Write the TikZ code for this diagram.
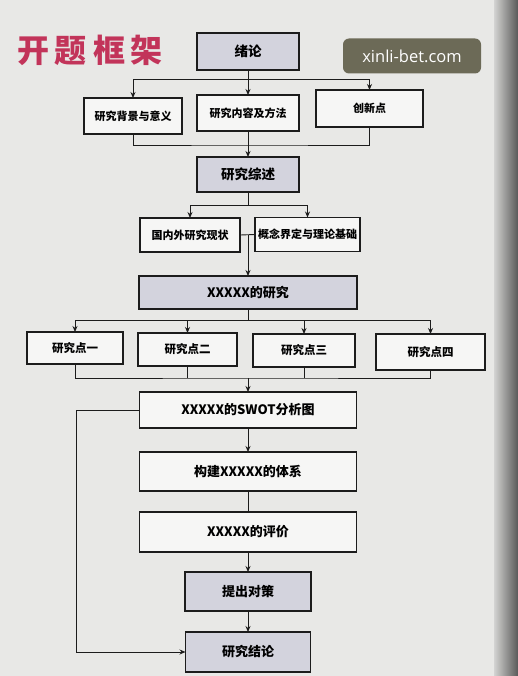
\documentclass[tikz,border=0pt]{standalone}
\usepackage{fontspec}
\setmainfont{Noto Sans CJK SC}
\newfontfamily\wmfont{Open Sans}
\usetikzlibrary{arrows.meta}
\definecolor{paper}{HTML}{E8E8E6}
\definecolor{boxfill}{HTML}{D3D3DD}
\definecolor{ink}{HTML}{1C1C1C}
\definecolor{titlered}{HTML}{C2345A}
\definecolor{wmgray}{HTML}{6C6A57}
\begin{document}
\begin{tikzpicture}[x=1pt,y=-1pt,
  box/.style={draw=ink,line width=1.5pt,inner sep=0pt,outer sep=0pt,fill=white!60!paper,font=\bfseries\fontsize{11}{13}\selectfont},
  mainbox/.style={box,fill=boxfill,font=\bfseries\fontsize{13.5}{15}\selectfont},
  widebox/.style={box,font=\bfseries\fontsize{13}{15}\selectfont},
  conn/.style={draw=ink,line width=0.9pt},
  arr/.style={conn,-{Stealth[length=6pt,width=5pt]}}]
\useasboundingbox (0,0) rectangle (518,676);
\fill[paper] (0,0) rectangle (518,676);
\shade[left color=paper!80!gray,right color=gray!70!black] (494,0) rectangle (518,676);
% title
\node[text=titlered,font=\bfseries\fontsize{32}{34}\selectfont] (title) at (90,50) {开\hspace{6pt}题\hspace{6pt}框\hspace{6pt}架};
% watermark
\node[fill=wmgray,rounded corners=6pt,minimum width=138pt,minimum height=35pt,inner sep=0pt,text=white,font=\wmfont\fontsize{16.5}{18}\selectfont] (wm) at (412,56) {xinli-bet.com};
% boxes
\node[mainbox,minimum width=102pt,minimum height=37pt] (xl) at (248,51.5) {绪论};
\node[box,minimum width=98pt,minimum height=36pt] (bg) at (133,116) {研究背景与意义};
\node[box,minimum width=102pt,minimum height=36pt] (nr) at (248,113) {研究内容及方法};
\node[box,minimum width=107pt,minimum height=37pt] (cx) at (369.5,108.5) {创新点};
\node[mainbox,minimum width=102pt,minimum height=35pt] (zs) at (248,174.5) {研究综述};
\node[box,minimum width=100pt,minimum height=34pt] (gn) at (190,235) {国内外研究现状};
\node[box,minimum width=105pt,minimum height=34pt] (gl) at (307.5,234.5) {概念界定与理论基础};
\node[mainbox,font=\bfseries\fontsize{13}{15}\selectfont,minimum width=218pt,minimum height=33pt] (yj) at (248,292.5) {XXXXX的研究};
\node[box,font=\bfseries\fontsize{11.5}{13}\selectfont,minimum width=96pt,minimum height=32pt] (p1) at (75,348) {研究点一};
\node[box,font=\bfseries\fontsize{11.5}{13}\selectfont,minimum width=99pt,minimum height=33pt] (p2) at (187.5,349.5) {研究点二};
\node[box,font=\bfseries\fontsize{11.5}{13}\selectfont,minimum width=102pt,minimum height=33pt] (p3) at (304,350.5) {研究点三};
\node[box,font=\bfseries\fontsize{11.5}{13}\selectfont,minimum width=109pt,minimum height=36pt] (p4) at (430.5,352) {研究点四};
\node[widebox,minimum width=217pt,minimum height=36pt] (swot) at (248,410) {XXXXX的SWOT分析图};
\node[widebox,minimum width=217pt,minimum height=39pt] (gj) at (248,471.5) {构建XXXXX的体系};
\node[widebox,minimum width=217pt,minimum height=40pt] (pj) at (248,532) {XXXXX的评价};
\node[mainbox,font=\bfseries\fontsize{13}{15}\selectfont,minimum width=126pt,minimum height=39pt] (tc) at (248,591.5) {提出对策};
\node[mainbox,font=\bfseries\fontsize{13}{15}\selectfont,minimum width=125pt,minimum height=40pt] (jl) at (248,652) {研究结论};
% connectors: 绪论
\coordinate (b1) at (248,79);
\draw[conn] (xl.south) -- (b1);
\draw[arr] (b1) -| (bg.north);
\draw[arr] (b1) -| (cx.north);
\draw[arr] (xl.south) -- (nr.north);
\coordinate (b2) at (248,145);
\draw[conn] (bg.south) |- (b2) -| (cx.south);
\draw[arr] (nr.south) -- (zs.north);
% 研究综述
\coordinate (b3) at (248,205);
\draw[conn] (zs.south) -- (b3);
\draw[arr] (b3) -| (gn.north);
\draw[arr] (b3) -| (gl.north);
\draw[conn] (gn.east) -- (gl.west);
\coordinate (b4) at (248,235);
\draw[arr] (b4) -- (yj.north);
% 研究点
\coordinate (b5) at (248,320);
\draw[conn] (yj.south) -- (b5);
\draw[arr] (b5) -| (p1.north);
\draw[arr] (b5) -| (p2.north);
\draw[arr] (b5) -| (p3.north);
\draw[arr] (b5) -| (p4.north);
\coordinate (b6) at (248,378);
\draw[conn] (p1.south) |- (b6) -| (p4.south);
\draw[conn] (p2.south) -- (p2.south |- b6);
\draw[conn] (p3.south) -- (p3.south |- b6);
\draw[arr] (b6) -- (swot.north);
% lower chain
\draw[arr] (swot.south) -- (gj.north);
\draw[conn] (gj.south) -- (pj.north);
\draw[arr] (pj.south) -- (tc.north);
\draw[arr] (tc.south) -- (jl.north);
\coordinate (lc) at (76,410);
\draw[arr] (swot.west) -- (lc) |- (jl.west);
\end{tikzpicture}
\end{document}
